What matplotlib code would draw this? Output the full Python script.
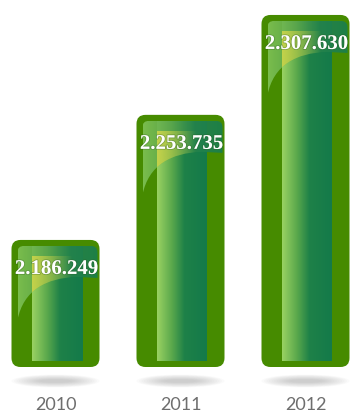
import numpy as np
import matplotlib
matplotlib.use('Agg')
import matplotlib.pyplot as plt
from matplotlib.patches import FancyBboxPatch, Ellipse, PathPatch
from matplotlib.path import Path
from matplotlib.colors import LinearSegmentedColormap, to_rgba
import matplotlib.patheffects as pe

# DATA
years = ['2010', '2011', '2012']
values = [2186249, 2253735, 2307630]
value_labels = ['2.186.249', '2.253.735', '2.307.630']

# SETUP
W, H = 352, 412
fig = plt.figure(figsize=(W / 100, H / 100), dpi=100)
ax = fig.add_axes([0, 0, 1, 1])
ax.axis('off')

sx = 1 / 125.0      # x data units per pixel
sy = 539.5          # y data units per pixel
base = 2117700      # value at the bottom of the bars
x0px = 55.5

col_cmap = LinearSegmentedColormap.from_list(
    'col', [(0, '#9ad262'), (0.3, '#5aa84c'), (0.55, '#1e8148'), (1, '#147a4a')])
gloss_cmap = LinearSegmentedColormap.from_list(
    'gloss', [(0, '#7fc255'), (0.35, '#5aa64c'), (0.65, '#24834c'), (1, '#1a7e4e')])
outer_color = '#468b00'
grad = np.linspace(0, 1, 256).reshape(1, -1)

for i, (v, lab, yr) in enumerate(zip(values, value_labels, years)):
    left = i - 44 * sx
    width = 88 * sx
    h = v - base

    # shadow
    for k in range(12):
        ax.add_patch(Ellipse((i, base - 14 * sy), (88 - k * 5) * sx, (13 - k * 0.9) * sy,
                             fc='#808080', ec='none', alpha=0.035, zorder=1))

    # outer rounded box
    outer = FancyBboxPatch((left, base), width, h,
                           boxstyle='round,pad=0,rounding_size=%f' % (9 * sx),
                           mutation_aspect=sy / sx, fc=outer_color, ec='none', zorder=2)
    ax.add_patch(outer)

    # inner column
    cl = left + 20 * sx
    cr = left + 70 * sx
    ax.imshow(grad, cmap=col_cmap, extent=(cl, cr, base + 6 * sy, v - 7 * sy),
              aspect='auto', interpolation='bicubic', zorder=3)

    # gloss panel
    def P(dx, dy):
        return (left + dx * sx, v - dy * sy)
    verts = [P(6, 13), P(6, 80), P(12, 50), P(35, 38), P(65, 37),
             P(86, 38), P(86, 13), P(86, 8), P(84, 6), P(79, 6),
             P(13, 6), P(8, 6), P(6, 8), P(6, 13)]
    codes = [Path.MOVETO, Path.LINETO, Path.CURVE4, Path.CURVE4, Path.CURVE4,
             Path.LINETO, Path.LINETO, Path.CURVE4, Path.CURVE4, Path.CURVE4,
             Path.LINETO, Path.CURVE4, Path.CURVE4, Path.CURVE4]
    gpatch = PathPatch(Path(verts, codes), fc='none', ec='none')
    ax.add_patch(gpatch)
    img = ax.imshow(grad, cmap=gloss_cmap, alpha=0.92,
                    extent=(left + 6 * sx, left + 86 * sx, v - 80 * sy, v - 6 * sy),
                    aspect='auto', interpolation='bicubic', zorder=4)
    img.set_clip_path(gpatch)

    # yellow tint where the column sits under the gloss
    t = np.linspace(0, 1, 256)
    yel = np.zeros((1, 256, 4))
    yel[0, :, :3] = to_rgba('#e2dc48')[:3]
    yel[0, :, 3] = 0.75 * np.clip(1 - t / 0.8, 0, 1)
    ylw = ax.imshow(yel, extent=(cl, cr, v - 80 * sy, v - 16 * sy),
                    aspect='auto', interpolation='bicubic', zorder=5)
    ylw.set_clip_path(gpatch)

    # labels
    ax.text(i + 1 * sx, v - 29 * sy, lab, ha='center', va='center', color='white',
            fontsize=15, fontweight='bold', family='Liberation Serif', zorder=6,
            path_effects=[pe.withStroke(linewidth=1.2, foreground='#2a5a20', alpha=0.35)])
    ax.text(i, base - 38 * sy, yr, ha='center', va='center', color='#6e6e6e',
            fontsize=13, family='Lato', zorder=6)

ax.set_xlim(-x0px * sx, (W - x0px) * sx)
ax.set_ylim(base - 45 * sy, base + 367 * sy)

plt.savefig('out.png', dpi=100)
